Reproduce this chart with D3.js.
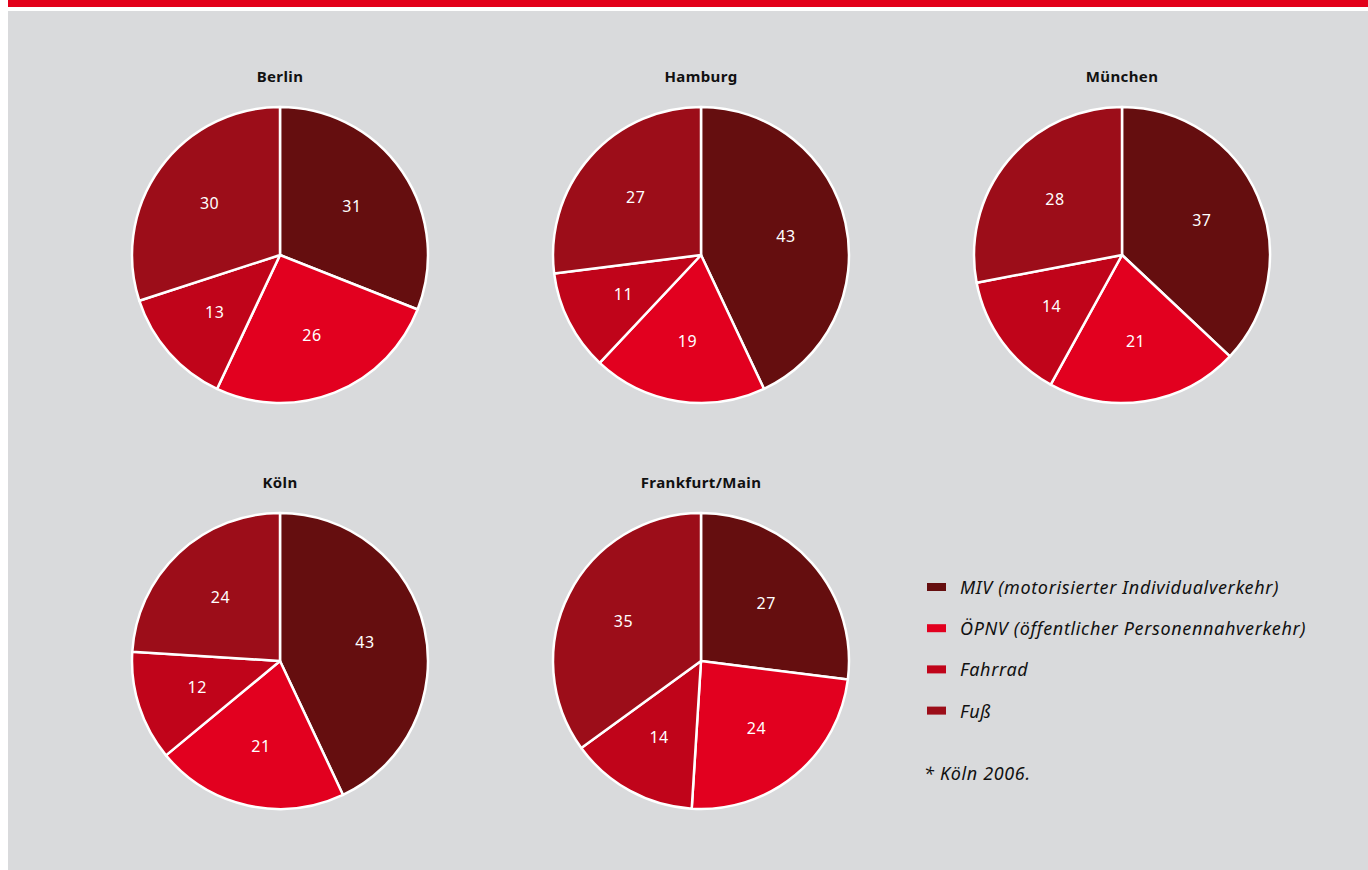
<!DOCTYPE html>
<html>
<head>
<meta charset="utf-8">
<script src="https://cdn.jsdelivr.net/npm/d3@7"></script>
<style>
  body { margin: 0; background: #fff; }
  svg { display: block; }
</style>
</head>
<body>
<div id="chart"></div>
<script>
// modal split per city, in percent
var cities = ["Berlin", "Hamburg", "München", "Köln", "Frankfurt/Main"];
var modes = ["MIV (motorisierter Individualverkehr)", "ÖPNV (öffentlicher Personennahverkehr)", "Fahrrad", "Fuß"];
var miv     = [31, 43, 37, 43, 27];
var oepnv   = [26, 19, 21, 21, 24];
var fahrrad = [13, 11, 14, 12, 14];
var fuss    = [30, 27, 28, 24, 35];
var footnote = "* Köln 2006.";

var colors = ["#650e0f", "#e2001f", "#c0041a", "#9c0d19"];

var width = 1368, height = 870;
var svg = d3.select("#chart").append("svg")
    .attr("width", width)
    .attr("height", height);

// background + red top bar
svg.append("rect").attr("x", 0).attr("y", 0).attr("width", width).attr("height", height).attr("fill", "#fff");
svg.append("rect").attr("x", 8).attr("y", 0).attr("width", width - 8).attr("height", 7).attr("fill", "#e2001a");
svg.append("rect").attr("x", 8).attr("y", 11).attr("width", width - 8).attr("height", height - 11).attr("fill", "#d9dadc");

// grid of pie positions
var col = d3.scalePoint().domain([0, 1, 2]).range([280, 1122]);
var row = d3.scalePoint().domain([0, 1]).range([255, 661]);
var radius = 148;

var pie = d3.pie().sort(null).value(function(d) { return d; });
var arc = d3.arc().innerRadius(0).outerRadius(radius);
var labelArc = d3.arc().innerRadius(87).outerRadius(87);

cities.forEach(function(city, i) {
    var values = [miv[i], oepnv[i], fahrrad[i], fuss[i]];
    var g = svg.append("g")
        .attr("transform", "translate(" + col(i % 3) + "," + row(Math.floor(i / 3)) + ")");

    g.append("text")
        .attr("y", -radius - 25)
        .attr("text-anchor", "middle")
        .attr("font-family", "'Noto Sans', sans-serif")
        .attr("font-weight", "bold")
        .attr("font-size", 15)
        .attr("letter-spacing", 0.4)
        .attr("fill", "#111")
        .text(city);

    var slices = g.selectAll("g.slice")
        .data(pie(values))
        .enter().append("g").attr("class", "slice");

    slices.append("path")
        .attr("d", arc)
        .attr("fill", function(d, j) { return colors[j]; })
        .attr("stroke", "#fff")
        .attr("stroke-width", 2.5)
        .attr("stroke-linejoin", "round");

    slices.append("text")
        .attr("transform", function(d) { return "translate(" + labelArc.centroid(d) + ")"; })
        .attr("dy", "0.35em")
        .attr("text-anchor", "middle")
        .attr("font-family", "'Noto Sans', sans-serif")
        .attr("font-size", 16)
        .attr("letter-spacing", 0.5)
        .attr("fill", "#fff")
        .text(function(d) { return d.data; });
});

// legend
var legend = svg.append("g")
    .selectAll("g")
    .data(modes)
    .enter().append("g")
    .attr("transform", function(d, i) { return "translate(927," + (583 + i * 41.2) + ")"; });

legend.append("rect")
    .attr("width", 19)
    .attr("height", 8)
    .attr("fill", function(d, i) { return colors[i]; });

legend.append("text")
    .attr("x", 33)
    .attr("y", 11)
    .attr("font-family", "'Noto Sans', sans-serif")
    .attr("font-style", "italic")
    .attr("font-size", 18)
    .attr("letter-spacing", 0.65)
    .attr("fill", "#111")
    .text(function(d) { return d; });

svg.append("text")
    .attr("x", 924)
    .attr("y", 780)
    .attr("font-family", "'Noto Sans', sans-serif")
    .attr("font-style", "italic")
    .attr("font-size", 18)
    .attr("letter-spacing", 0.65)
    .attr("fill", "#111")
    .text(footnote);
</script>
</body>
</html>
